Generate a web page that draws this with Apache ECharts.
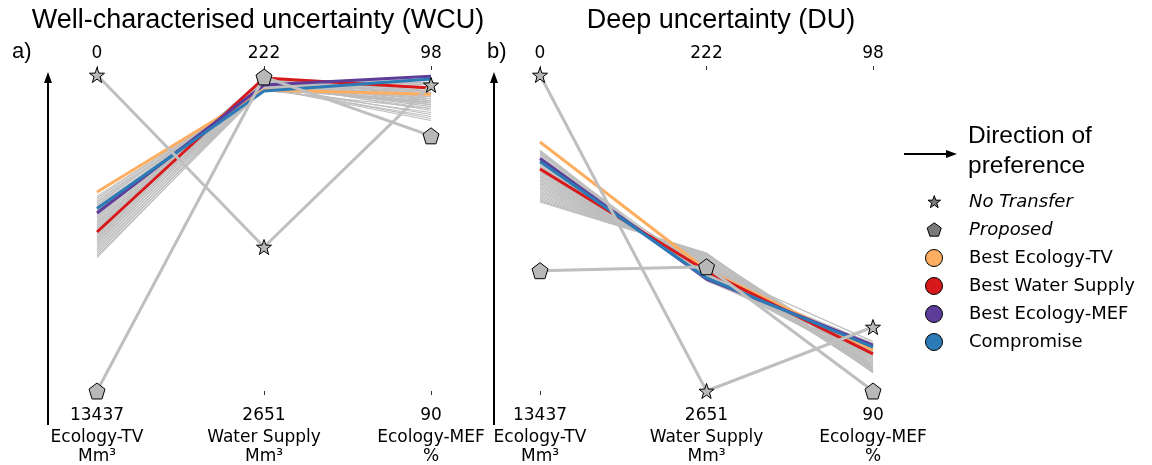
<!DOCTYPE html>
<html><head><meta charset="utf-8">
<script src="https://cdn.jsdelivr.net/npm/echarts@6/dist/echarts.min.js"></script>
<style>html,body{margin:0;padding:0;background:#fff}#c{width:1152px;height:465px}</style>
</head><body><div id="c"></div><script>
// ---- axes ----
const objectives = ['Ecology-TV', 'Water Supply', 'Ecology-MEF'];
const units = ['Mm³', 'Mm³', '%'];
const topTicks = [0, 222, 98];        // preferred end (top)
const bottomTicks = [13437, 2651, 90]; // worst end (bottom)

// ---- Well-characterised uncertainty (WCU) ----
const wcuNoTransfer = [0, 1544, 97.75];
const wcuProposed = [13437, 237, 96.46];
const wcuBestEcologyTV = [4975, 337, 97.51];
const wcuBestWaterSupply = [6676, 245, 97.67];
const wcuBestEcologyMEF = [5868, 299, 97.97];
const wcuCompromise = [5676, 345, 97.90];
const wcuPareto = [
  [5150, 330, 97.05], [5230, 320, 96.85], [5300, 340, 97.15], [5380, 310, 97.25],
  [5440, 325, 96.95], [5520, 300, 97.30], [5580, 335, 97.35], [5650, 290, 97.20],
  [5710, 315, 97.40], [5780, 280, 97.10], [5840, 305, 97.45], [5900, 270, 97.30],
  [5960, 295, 97.50], [6020, 260, 97.40], [6080, 285, 97.55], [6140, 250, 97.35],
  [6200, 275, 97.60], [6260, 245, 97.45], [6320, 265, 97.65], [6380, 240, 97.50],
  [6440, 255, 97.70], [6500, 238, 97.55], [6560, 250, 97.75], [6620, 242, 97.60],
  [6700, 260, 97.80], [6760, 248, 97.45], [6830, 270, 97.85], [6900, 255, 97.50],
  [6960, 280, 97.90], [7020, 262, 97.40], [7090, 290, 97.70], [7160, 272, 97.35],
  [7230, 300, 97.80], [7300, 285, 97.25], [7380, 310, 97.60], [7450, 295, 97.15],
  [7530, 320, 97.50], [7610, 305, 97.00], [7690, 330, 97.30], [7770, 315, 96.90]
];

// ---- Deep uncertainty (DU) ----
const duNoTransfer = [0, 2651, 91.62];
const duProposed = [8321, 1696, 90];
const duBestEcologyTV = [2849, 1721, 91.04];
const duBestWaterSupply = [3997, 1729, 90.94];
const duBestEcologyMEF = [3550, 1790, 91.16];
const duCompromise = [3678, 1782, 91.11];
const duPareto = [
  [3200, 1805, 91.05], [3260, 1798, 90.90], [3320, 1792, 91.15], [3380, 1785, 90.80],
  [3440, 1790, 91.00], [3500, 1778, 90.70], [3560, 1772, 91.10], [3620, 1766, 90.85],
  [3680, 1760, 90.95], [3740, 1754, 90.65], [3800, 1748, 91.05], [3860, 1742, 90.75],
  [3920, 1736, 90.90], [3980, 1730, 90.60], [4040, 1724, 91.00], [4100, 1718, 90.70],
  [4160, 1712, 90.85], [4220, 1706, 90.55], [4280, 1700, 90.95], [4340, 1694, 90.65],
  [4400, 1688, 90.80], [4460, 1682, 90.50], [4520, 1676, 90.90], [4580, 1670, 90.60],
  [4640, 1664, 90.75], [4700, 1658, 90.48], [4760, 1652, 90.85], [4820, 1646, 90.58],
  [4880, 1640, 90.70], [4940, 1634, 90.50], [5000, 1628, 90.80], [5060, 1622, 90.55],
  [5120, 1616, 90.65], [5180, 1610, 90.46], [5240, 1604, 90.75], [5300, 1598, 90.52],
  [5360, 1593, 90.60], [5400, 1590, 90.48], [3300, 1760, 91.20], [3900, 1700, 91.25]
];

const panelTitles = ['Well-characterised uncertainty (WCU)', 'Deep uncertainty (DU)'];
const panelLetters = ['a)', 'b)'];
const legendNames = ['No Transfer', 'Proposed', 'Best Ecology-TV', 'Best Water Supply', 'Best Ecology-MEF', 'Compromise'];

// ---- styling ----
const colors = { 'Best Ecology-TV': '#fdae61', 'Best Water Supply': '#d7191c', 'Best Ecology-MEF': '#5e3c99', 'Compromise': '#2c7bb6' };
const STAR = 'path://M50 0L61.76 33.82L97.55 34.55L69.02 56.18L79.39 90.45L50 70L20.61 90.45L30.98 56.18L2.45 34.55L38.24 33.82Z';
const PENT = 'path://M50 0L97.55 34.55L79.39 90.45L20.61 90.45L2.45 34.55Z';
const STAR_LEG = 'path://M-16 -16M112 112M50 0L61.76 33.82L97.55 34.55L69.02 56.18L79.39 90.45L50 70L20.61 90.45L30.98 56.18L2.45 34.55L38.24 33.82Z';
const PENT_LEG = 'path://M-9 -9M106 106M50 0L97.55 34.55L79.39 90.45L20.61 90.45L2.45 34.55Z';

const norm = (v, i) => (v - bottomTicks[i]) / (topTicks[i] - bottomTicks[i]);
const toData = vals => vals.map((v, i) => norm(v, i));

const grids = [
  { left: 97, top: 75, width: 334, height: 316 },
  { left: 540, top: 75, width: 333, height: 316 }
];

const xAxis = [], yAxis = [], series = [];
grids.forEach((g, gi) => {
  xAxis.push({
    type: 'category', gridIndex: gi, data: objectives, boundaryGap: false, position: 'bottom', offset: 7,
    axisLine: { show: false }, splitLine: { show: false },
    axisTick: { show: true, length: 4, lineStyle: { color: '#333', width: 1 } },
    axisLabel: {
      interval: 0, margin: 6, color: '#000',
      formatter: (val, idx) => '{n|' + bottomTicks[idx] + '}\n{a|' + objectives[idx] + '}\n{a|' + units[idx] + '}',
      rich: {
        n: { fontFamily: 'DejaVu Sans', fontSize: 17, lineHeight: 24, color: '#000' },
        a: { fontFamily: 'DejaVu Sans', fontSize: 17, lineHeight: 19, color: '#000' }
      }
    }
  });
  xAxis.push({
    type: 'category', gridIndex: gi, data: topTicks.map(String), boundaryGap: false, position: 'top', offset: 5,
    axisLine: { show: false }, splitLine: { show: false },
    axisTick: { show: true, length: 4, lineStyle: { color: '#333', width: 1 } },
    axisLabel: { interval: 0, margin: 8, color: '#000', fontFamily: 'DejaVu Sans', fontSize: 17 }
  });
  yAxis.push({ type: 'value', gridIndex: gi, min: 0, max: 1, show: false });
});

function addPanel(gi, pareto, named) {
  pareto.forEach(row => series.push({
    type: 'line', xAxisIndex: gi * 2, yAxisIndex: gi, data: toData(row), silent: true,
    symbol: 'none', lineStyle: { color: '#bdbdbd', width: 1.1 }, z: 2
  }));
  ['Best Ecology-TV', 'Best Water Supply', 'Best Ecology-MEF', 'Compromise'].forEach(nm => series.push({
    type: 'line', name: nm, xAxisIndex: gi * 2, yAxisIndex: gi, data: toData(named[nm]),
    symbol: 'none', lineStyle: { color: colors[nm], width: 3 }, itemStyle: { color: colors[nm] }, z: 3
  }));
  series.push({
    type: 'line', name: 'No Transfer', xAxisIndex: gi * 2, yAxisIndex: gi, data: toData(named['No Transfer']),
    symbol: STAR, symbolSize: 15, showSymbol: true,
    lineStyle: { color: '#bfbfbf', width: 3 }, itemStyle: { color: '#b8b8b8', borderColor: '#000', borderWidth: 1 }, z: 4
  });
  series.push({
    type: 'line', name: 'Proposed', xAxisIndex: gi * 2, yAxisIndex: gi, data: toData(named['Proposed']),
    symbol: PENT, symbolSize: 16, showSymbol: true,
    lineStyle: { color: '#bfbfbf', width: 3 }, itemStyle: { color: '#b8b8b8', borderColor: '#000', borderWidth: 1 }, z: 4
  });
}
addPanel(0, wcuPareto, {
  'No Transfer': wcuNoTransfer, 'Proposed': wcuProposed, 'Best Ecology-TV': wcuBestEcologyTV,
  'Best Water Supply': wcuBestWaterSupply, 'Best Ecology-MEF': wcuBestEcologyMEF, 'Compromise': wcuCompromise
});
addPanel(1, duPareto, {
  'No Transfer': duNoTransfer, 'Proposed': duProposed, 'Best Ecology-TV': duBestEcologyTV,
  'Best Water Supply': duBestWaterSupply, 'Best Ecology-MEF': duBestEcologyMEF, 'Compromise': duCompromise
});

const legendIcons = { 'No Transfer': STAR_LEG, 'Proposed': PENT_LEG };
const legendFill = { 'No Transfer': '#7a7a7a', 'Proposed': '#7a7a7a' };
const legendData = legendNames.map(nm => ({
  name: nm,
  icon: legendIcons[nm] || 'circle',
  itemStyle: { color: legendFill[nm] || colors[nm], borderColor: '#000', borderWidth: 1 },
  textStyle: { fontStyle: (nm === 'No Transfer' || nm === 'Proposed') ? 'italic' : 'normal' }
}));

function vArrow(x) {
  return [
    { type: 'line', shape: { x1: x, y1: 425, x2: x, y2: 80 }, style: { stroke: '#000', lineWidth: 2 } },
    { type: 'polygon', shape: { points: [[x, 72], [x - 4, 83], [x + 4, 83]] }, style: { fill: '#000' } }
  ];
}

const graphic = [
  { type: 'text', x: 258, y: 21, style: { text: panelTitles[0], font: '27px "Liberation Sans"', fill: '#000', textAlign: 'center', textVerticalAlign: 'middle' } },
  { type: 'text', x: 721, y: 21, style: { text: panelTitles[1], font: '27px "Liberation Sans"', fill: '#000', textAlign: 'center', textVerticalAlign: 'middle' } },
  { type: 'text', x: 12, y: 52, style: { text: panelLetters[0], font: '22px "Liberation Sans"', fill: '#000', textAlign: 'left', textVerticalAlign: 'middle' } },
  { type: 'text', x: 487, y: 52, style: { text: panelLetters[1], font: '22px "Liberation Sans"', fill: '#000', textAlign: 'left', textVerticalAlign: 'middle' } },
  ...vArrow(48), ...vArrow(494),
  { type: 'line', shape: { x1: 904, y1: 154, x2: 948, y2: 154 }, style: { stroke: '#000', lineWidth: 2 } },
  { type: 'polygon', shape: { points: [[957, 154], [946, 150], [946, 158]] }, style: { fill: '#000' } },
  { type: 'text', x: 968, y: 151, style: { text: 'Direction of\npreference', font: '24.5px "Liberation Sans"', lineHeight: 30, fill: '#000', textAlign: 'left', textVerticalAlign: 'middle' } }
];

const chart = echarts.init(document.getElementById('c'), null, { renderer: 'canvas' });
chart.setOption({
  animation: false,
  backgroundColor: '#fff',
  grid: grids,
  xAxis, yAxis, series, graphic,
  legend: {
    data: legendData, orient: 'vertical', left: 920, top: 188,
    itemWidth: 60, itemHeight: 17, itemGap: 10, symbolKeepAspect: true, selectedMode: false,
    textStyle: { fontFamily: 'DejaVu Sans', fontSize: 18, color: '#000' }
  }
});
</script></body></html>
